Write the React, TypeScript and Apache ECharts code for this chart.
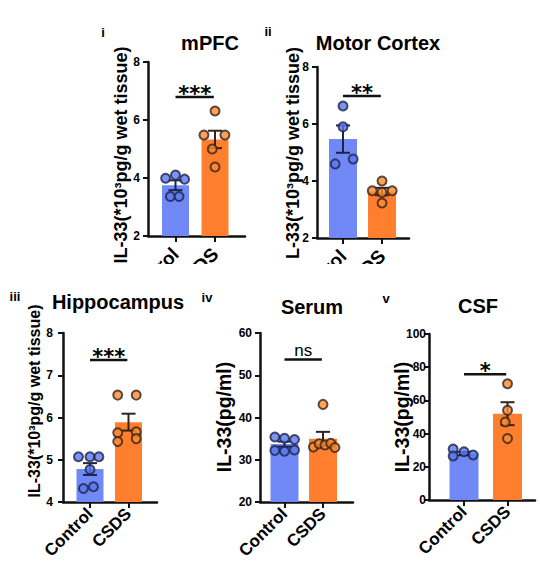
import React, { useEffect, useRef } from "react";
import * as echarts from "echarts";

// ---------- data ----------
const groups = ["Control", "CSDS"];
const panelTitles = ["mPFC", "Motor Cortex", "Hippocampus", "Serum", "CSF"];
const panelLetters = ["i", "ii", "iii", "iv", "v"];
const yAxisNames = [
  "IL-33(*10³pg/g wet tissue)",
  "L-33(*10³pg/g wet tissue)",
  "IL-33(*10³pg/g wet tissue)",
  "IL-33(pg/ml)",
  "IL-33(pg/ml)",
];
const yMin = [2, 2, 4, 20, 0];
const yMax = [8, 8, 8, 60, 100];
const yStep = [2, 2, 1, 10, 20];

const controlMean = [3.75, 5.47, 4.78, 33.7, 28.0];
const controlSem = [0.17, 0.48, 0.14, 0.6, 1.0];
const csdsMean = [5.33, 3.63, 5.89, 35.0, 52.0];
const csdsSem = [0.3, 0.13, 0.2, 1.6, 6.9];

const controlPoints = [
  [3.99, 4.1, 3.96, 3.36, 3.36],
  [6.63, 5.9, 4.6, 4.77],
  [5.07, 5.07, 5.07, 4.77, 4.32, 4.36],
  [35.4, 35.1, 34.8, 32.2, 32.0, 32.3],
  [30.7, 26.5, 29.1, 27.1],
];
const controlJitter = [
  [-0.25, 0, 0.23, -0.13, 0.09],
  [0, 0, -0.2, 0.26],
  [-0.3, 0, 0.23, 0, -0.17, 0.09],
  [-0.25, 0, 0.26, -0.25, 0, 0.26],
  [-0.25, -0.25, 0, 0.21],
];
const csdsPoints = [
  [6.31, 5.48, 5.48, 5.0, 4.38],
  [4.0, 3.66, 3.66, 3.6, 3.23],
  [6.53, 6.53, 5.64, 5.66, 5.43, 5.5],
  [43.1, 33.0, 33.8, 33.5, 33.9, 32.9],
  [70, 54, 47, 37],
];
const csdsJitter = [
  [0, -0.28, 0.25, -0.07, 0],
  [0, -0.25, 0.26, 0, 0],
  [-0.28, 0.2, -0.28, 0.2, -0.28, 0.2],
  [0, -0.25, -0.1, 0.05, 0.2, 0.31],
  [0, 0, -0.05, 0],
];
const sigLevel = [6.79, 6.98, 7.36, 53.7, 75.7];
const sigLabel = ["***", "**", "***", "ns", "*"];

// ---------- layout / style ----------
const grids = [
  { left: 148, top: 62, width: 97, height: 174 },
  { left: 317, top: 67, width: 92, height: 171 },
  { left: 63, top: 333, width: 94, height: 169 },
  { left: 260, top: 333, width: 93, height: 169 },
  { left: 429, top: 334, width: 106, height: 166 },
];
const xRange = [
  [-0.696, 1.759],
  [-0.667, 1.692],
  [-0.701, 1.74],
  [-0.636, 1.779],
  [-0.805, 1.632],
];
const barWidths = [27, 28, 27, 28, 29];
const yLabelMargin = [8, 8, 10, 8, 3];
const xLabelMargin = [15, 15, 9, 9, 9];
const xLabelSize = [19, 19, 17, 17, 17];
const titlePos = [
  [210, 43],
  [378, 43],
  [118, 302],
  [312, 307],
  [478, 306],
];
const letterPos = [
  [103, 32],
  [268, 31],
  [15, 296],
  [207, 297],
  [386, 298],
];
const yNamePos = [
  [121, 155, 18],
  [293, 153, 18],
  [34, 401, 16],
  [224, 417, 19.5],
  [402, 417, 19.5],
];

const FONT = "'Liberation Sans', Arial, Helvetica, sans-serif";
const BLUE_BAR = "#7089F6";
const ORANGE_BAR = "#FF7F2E";
const BLUE_DOT = "#5A78F2";
const ORANGE_DOT = "#FF8A2E";
const BLUE_EDGE = "#1E2448";
const ORANGE_EDGE = "#35241A";
const AXIS = "#111111";

export default function App() {
  const ref = useRef<HTMLDivElement>(null);

  useEffect(() => {
    if (!ref.current) return;
    const chart = echarts.init(ref.current, undefined, { renderer: "svg" });

    const xAxes: any[] = [];
    const yAxes: any[] = [];
    const series: any[] = [];
    const graphic: any[] = [];

    panelTitles.forEach((title, k) => {
      xAxes.push({
        type: "value",
        gridIndex: k,
        min: xRange[k][0],
        max: xRange[k][1],
        splitLine: { show: false },
        axisLine: { show: true, onZero: false, lineStyle: { color: AXIS, width: 2.5 } },
        axisTick: { show: true, customValues: [0, 1], length: 6, lineStyle: { color: AXIS, width: 2 } },
        axisLabel: {
          show: true,
          customValues: [0, 1],
          formatter: (v: number) => groups[Math.round(v)] ?? "",
          rotate: 45,
          margin: xLabelMargin[k],
          fontSize: xLabelSize[k],
          fontWeight: "bold",
          fontFamily: FONT,
          color: "#000",
        },
      });
      yAxes.push({
        type: "value",
        gridIndex: k,
        min: yMin[k],
        max: yMax[k],
        interval: yStep[k],
        splitLine: { show: false },
        axisLine: { show: true, onZero: false, lineStyle: { color: AXIS, width: 2.5 } },
        axisTick: { show: true, length: 5, lineStyle: { color: AXIS, width: 2 } },
        axisLabel: {
          margin: yLabelMargin[k],
          fontSize: 12,
          fontWeight: "bold",
          fontFamily: FONT,
          color: "#000",
        },
      });

      series.push({
        type: "bar",
        name: "mean",
        xAxisIndex: k,
        yAxisIndex: k,
        barWidth: barWidths[k],
        z: 1,
        data: [
          { value: [0, controlMean[k]], itemStyle: { color: BLUE_BAR } },
          { value: [1, csdsMean[k]], itemStyle: { color: ORANGE_BAR } },
        ],
      });

      series.push({
        type: "custom",
        name: "SEM",
        xAxisIndex: k,
        yAxisIndex: k,
        z: 3,
        data: [
          [0, controlMean[k], controlSem[k], 0],
          [1, csdsMean[k], csdsSem[k], 1],
        ],
        renderItem: (params: any, api: any) => {
          const x = api.value(0);
          const m = api.value(1);
          const s = api.value(2);
          const g = api.value(3);
          const top = api.coord([x, m + s]);
          const bot = api.coord([x, m - s]);
          const half = 7;
          const stroke = g === 0 ? BLUE_EDGE : ORANGE_EDGE;
          const style = { stroke, lineWidth: 2 };
          return {
            type: "group",
            children: [
              { type: "line", shape: { x1: top[0], y1: top[1], x2: bot[0], y2: bot[1] }, style },
              { type: "line", shape: { x1: top[0] - half, y1: top[1], x2: top[0] + half, y2: top[1] }, style },
              { type: "line", shape: { x1: bot[0] - half, y1: bot[1], x2: bot[0] + half, y2: bot[1] }, style },
            ],
          };
        },
      });

      series.push({
        type: "scatter",
        name: groups[0],
        xAxisIndex: k,
        yAxisIndex: k,
        z: 4,
        symbolSize: 9,
        itemStyle: { color: BLUE_DOT, borderColor: BLUE_EDGE, borderWidth: 2 },
        data: controlPoints[k].map((v, i) => [0 + controlJitter[k][i], v]),
      });
      series.push({
        type: "scatter",
        name: groups[1],
        xAxisIndex: k,
        yAxisIndex: k,
        z: 4,
        symbolSize: 9,
        itemStyle: { color: ORANGE_DOT, borderColor: ORANGE_EDGE, borderWidth: 2 },
        data: csdsPoints[k].map((v, i) => [1 + csdsJitter[k][i], v]),
      });

      series.push({
        type: "custom",
        name: "significance",
        xAxisIndex: k,
        yAxisIndex: k,
        z: 5,
        data: [[0, sigLevel[k]]],
        renderItem: (params: any, api: any) => {
          const y = api.value(1);
          const p0 = api.coord([0, y]);
          const p1 = api.coord([0.97, y]);
          const label = sigLabel[k];
          const isNs = label === "ns";
          return {
            type: "group",
            children: [
              {
                type: "line",
                shape: { x1: p0[0], y1: p0[1], x2: p1[0], y2: p1[1] },
                style: { stroke: AXIS, lineWidth: 2.5 },
              },
              {
                type: "text",
                x: (p0[0] + p1[0]) / 2,
                y: p0[1] + (isNs ? -9 : -3),
                style: {
                  text: label,
                  fontSize: isNs ? 17 : 21,
                  fontWeight: isNs ? "normal" : "bold",
                  fontFamily: isNs ? FONT : "'DejaVu Sans', sans-serif",
                  fill: "#000",
                  align: "center",
                  verticalAlign: "middle",
                },
              },
            ],
          };
        },
      });

      graphic.push({
        type: "text",
        x: titlePos[k][0],
        y: titlePos[k][1],
        z: 20,
        style: {
          text: title,
          fontSize: 20,
          fontWeight: "bold",
          fontFamily: FONT,
          fill: "#000",
          align: "center",
          verticalAlign: "middle",
        },
      });
      graphic.push({
        type: "text",
        x: letterPos[k][0],
        y: letterPos[k][1],
        z: 20,
        style: {
          text: panelLetters[k],
          fontSize: 13,
          fontWeight: "bold",
          fontFamily: FONT,
          fill: "#000",
          align: "center",
          verticalAlign: "middle",
        },
      });
      graphic.push({
        type: "text",
        x: yNamePos[k][0],
        y: yNamePos[k][1],
        rotation: Math.PI / 2,
        z: 20,
        style: {
          text: yAxisNames[k],
          fontSize: yNamePos[k][2],
          fontWeight: "bold",
          fontFamily: FONT,
          fill: "#000",
          align: "center",
          verticalAlign: "middle",
        },
      });
    });

    // the reference's upper row is cropped just below the axes:
    // a white band hides the rest of its category labels (titles stay on top)
    graphic.push({
      type: "rect",
      z: 10,
      shape: { x: 80, y: 264, width: 350, height: 56 },
      style: { fill: "#ffffff" },
    });

    chart.setOption({
      animation: false,
      backgroundColor: "#ffffff",
      grid: grids.map((g) => ({ ...g, containLabel: false })),
      xAxis: xAxes,
      yAxis: yAxes,
      series,
      graphic,
    });

    return () => chart.dispose();
  }, []);

  return (
    <div
      ref={ref}
      style={{ position: "fixed", left: 0, top: 0, width: 540, height: 577, background: "#fff" }}
    />
  );
}
